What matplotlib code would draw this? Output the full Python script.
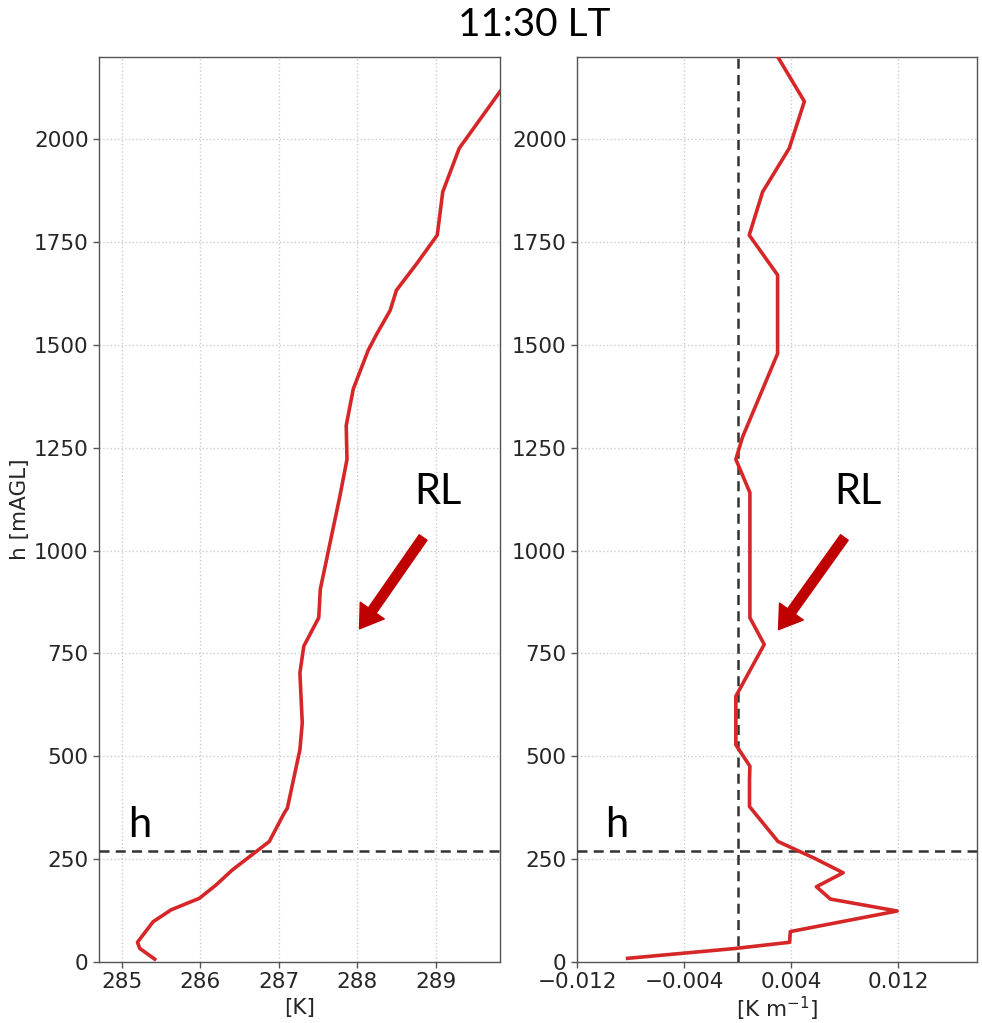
import matplotlib
matplotlib.use("Agg")
import matplotlib.pyplot as plt
import numpy as np

# Potential temperature profile [K] vs height [m AGL]
theta_h = [7, 33, 48, 98, 127, 155, 187, 224, 293, 362, 374, 516, 581, 703, 768,
           837, 906, 1133, 1222, 1304, 1393, 1487, 1527, 1584, 1633, 1698, 1767,
           1872, 1978, 2116, 2200]
theta = [285.42, 285.23, 285.20, 285.40, 285.63, 285.99, 286.20, 286.41, 286.88,
         287.07, 287.11, 287.27, 287.30, 287.27, 287.32, 287.51, 287.53, 287.78,
         287.87, 287.86, 287.95, 288.14, 288.25, 288.42, 288.50, 288.76, 289.02,
         289.09, 289.30, 289.82, 290.14]

# Vertical gradient of potential temperature [K m-1]
grad_h = [9, 33, 48, 74, 124, 153, 183, 217, 252, 293, 378, 443, 476, 528, 646,
          772, 837, 1141, 1222, 1276, 1479, 1670, 1767, 1872, 1978, 2092, 2201]
grad = [-0.00822, -0.00016, 0.00389, 0.00394, 0.01193, 0.00694, 0.00589, 0.00789,
        0.00576, 0.00302, 0.00089, 0.00089, 0.00092, -0.00013, -0.00013, 0.00199,
        0.00092, 0.00092, -0.00013, 0.00037, 0.00299, 0.00299, 0.00087, 0.00187,
        0.00386, 0.00499, 0.00299]

boundary_layer_h = 270
y_ticks = [0, 250, 500, 750, 1000, 1250, 1500, 1750, 2000]
theta_ticks = [285, 286, 287, 288, 289]
grad_ticks = [-0.012, -0.004, 0.004, 0.012]

LINE_RED = "#d62728"
ARROW_RED = "#c00000"
TICK_FS = 15.5
ANNOT_FONT = ["Lato", "DejaVu Sans"]

fig = plt.figure(figsize=(9.82, 10.23), dpi=100)
ax1 = fig.add_axes([0.1008, 0.0596, 0.4084, 0.8847])
ax2 = fig.add_axes([0.5876, 0.0596, 0.4074, 0.8847])

for ax in (ax1, ax2):
    ax.set_ylim(0, 2200)
    ax.set_yticks(y_ticks)
    ax.grid(True, color="#cccccc", linestyle=":", linewidth=1.0)
    ax.set_axisbelow(True)
    ax.tick_params(labelsize=TICK_FS, colors="#262626", length=4, width=1,
                   color="#555555")
    for s in ax.spines.values():
        s.set_color("#555555")
        s.set_linewidth(1.0)
    ax.axhline(boundary_layer_h, color="#333333", linestyle="--", linewidth=1.8,
               dashes=(4, 2.5), zorder=3)

# Left: potential temperature
ax1.plot(theta, theta_h, color=LINE_RED, linewidth=2.6, zorder=4)
ax1.set_xlim(284.71, 289.82)
ax1.set_xticks(theta_ticks)
ax1.set_xlabel("[K]", fontsize=TICK_FS, color="#262626", labelpad=4)
ax1.set_ylabel("h [mAGL]", fontsize=TICK_FS, color="#262626", labelpad=3)

# Right: gradient
ax2.plot(grad, grad_h, color=LINE_RED, linewidth=2.6, zorder=4)
ax2.axvline(0, color="#333333", linestyle="--", linewidth=1.8, dashes=(4, 2.5),
            zorder=3)
ax2.set_xlim(-0.012, 0.0179)
ax2.set_xticks(grad_ticks)
ax2.set_xticklabels(["\u22120.012", "\u22120.004", "0.004", "0.012"])
ax2.set_xlabel("[K m$^{-1}$]", fontsize=TICK_FS, color="#262626", labelpad=1.5)

# Residual layer annotations
arrow_kw = dict(arrowstyle="simple,head_length=0.8,head_width=1.05,tail_width=0.34",
                color=ARROW_RED, shrinkA=0, shrinkB=0, mutation_scale=20)
ax1.annotate("", xy=(288.03, 810), xytext=(288.84, 1032), arrowprops=arrow_kw,
             zorder=5)
ax2.annotate("", xy=(0.00306, 808), xytext=(0.00798, 1032), arrowprops=arrow_kw,
             zorder=5)
fig.text(438 / 982, 1 - 492 / 1023, "RL", fontsize=30, family=ANNOT_FONT,
         ha="center", va="center")
fig.text(858 / 982, 1 - 492 / 1023, "RL", fontsize=30, family=ANNOT_FONT,
         ha="center", va="center")

# Boundary layer height labels
fig.text(140 / 982, 1 - 837 / 1023, "h", fontsize=30, family=ANNOT_FONT,
         ha="center", va="baseline")
fig.text(617 / 982, 1 - 837 / 1023, "h", fontsize=30, family=ANNOT_FONT,
         ha="center", va="baseline")

fig.text(534 / 982, 1 - 36 / 1023, "11:30 LT", fontsize=28, family=ANNOT_FONT,
         ha="center", va="baseline")

fig.savefig("out.png", dpi=100, facecolor="white")
